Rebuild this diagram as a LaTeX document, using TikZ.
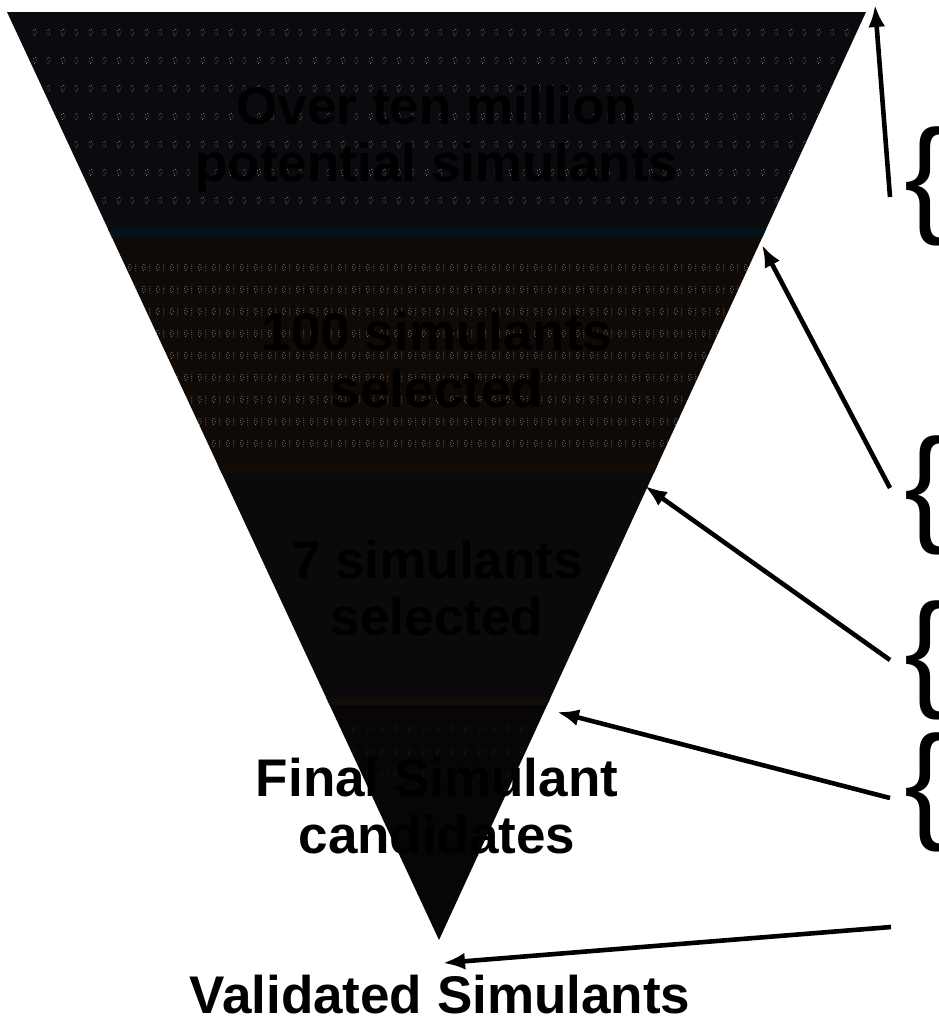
\documentclass[tikz,border=0pt]{standalone}
\usepackage{fontspec}
\setmainfont{Liberation Sans}
\usetikzlibrary{arrows.meta,patterns.meta,calc}
\definecolor{bandA}{RGB}{9,11,14}
\definecolor{bandB}{RGB}{16,10,6}
\definecolor{bandC}{RGB}{12,9,12}
\definecolor{bandD}{RGB}{8,5,8}
\definecolor{sepA}{RGB}{4,18,26}
\definecolor{sepB}{RGB}{20,11,4}
\definecolor{sepC}{RGB}{18,12,10}
\definecolor{dotA}{RGB}{150,150,150}
\definecolor{dotB}{RGB}{140,130,120}
\definecolor{dotD}{RGB}{40,34,40}
\tikzdeclarepattern{
  name=binA, type=uncolored,
  bottom left={(0pt,0pt)}, top right={(28pt,28pt)},
  tile size={(28pt,28pt)},
  code={\draw[line width=0.7pt, dash pattern=on 0.7pt off 2.2pt] (7pt,14pt) ellipse (1.6pt and 3.6pt);
        \draw[line width=0.7pt, dash pattern=on 0.7pt off 2.2pt] (21pt,14pt) ellipse (1.6pt and 3.6pt);}
}
\tikzdeclarepattern{
  name=binB, type=uncolored,
  bottom left={(0pt,0pt)}, top right={(14pt,22pt)},
  tile size={(14pt,22pt)},
  code={\draw[line width=0.7pt, dash pattern=on 0.7pt off 1.6pt] (4pt,11pt) ellipse (1.6pt and 3.6pt);
        \draw[line width=0.7pt, dash pattern=on 0.7pt off 1.6pt] (10.5pt,7pt) -- (10.5pt,15pt);}
}
\tikzset{
  intext/.style={font=\fontsize{53}{57}\selectfont\bfseries, text=black, align=center, inner sep=0pt},
  outtext/.style={font=\fontsize{53}{57}\selectfont\bfseries, text=black, align=center, inner sep=0pt},
  bracetext/.style={font=\fontsize{128}{135}\selectfont, text=black, inner sep=0pt, anchor=west},
  pointer/.style={line width=4.6pt, draw=black, -{Latex[length=22pt,width=17pt]}},
}
\begin{document}
\begin{tikzpicture}[x=1pt,y=-1pt]
\useasboundingbox (0,0) rectangle (938,1026);
\fill[white] (0,0) rectangle (938,1026);
% funnel corners
\coordinate (TL) at (7,12);
\coordinate (TR) at (866,12);
\coordinate (AP) at (439,940);
\coordinate (L1) at ($(TL)!0.2425!(AP)$);
\coordinate (R1) at ($(TR)!0.2425!(AP)$);
\coordinate (L2) at ($(TL)!0.4957!(AP)$);
\coordinate (R2) at ($(TR)!0.4957!(AP)$);
\coordinate (L3) at ($(TL)!0.7468!(AP)$);
\coordinate (R3) at ($(TR)!0.7468!(AP)$);
% bands
\fill[bandA] (TL) -- (TR) -- (R1) -- (L1) -- cycle;
\fill[bandB] (L1) -- (R1) -- (R2) -- (L2) -- cycle;
\fill[bandC] (L2) -- (R2) -- (R3) -- (L3) -- cycle;
\fill[bandD] (L3) -- (R3) -- (AP) -- cycle;
\begin{scope}
  \clip (TL) -- (TR) -- (AP) -- cycle;
  \fill[pattern=binA, pattern color=dotA] (30,28) rectangle (850,222);
  \fill[pattern=binB, pattern color=dotB] (100,255) rectangle (760,458);
  \fill[pattern=binB, pattern color=dotD] (300,722) rectangle (560,780);
  \draw[line width=9pt, sepA] ($(L1)+(-20,-4)$) -- ($(R1)+(20,-4)$);
  \draw[line width=9pt, sepB] ($(L2)+(-20,-4)$) -- ($(R2)+(20,-4)$);
  \draw[line width=7pt, sepC] ($(L3)+(-20,-4)$) -- ($(R3)+(20,-4)$);
\end{scope}
% texts in the funnel
\node[intext] (t1) at (437,139) {Over ten million\\potential simulants};
\node[intext] (t2) at (437,360) {100 simulants\\selected};
\node[intext] (t3) at (437,588) {7 simulants\\selected};
\node[intext] (t4) at (437,806) {Final Simulant\\candidates};
\node[outtext] (t5) at (440,995) {Validated Simulants};
% braces (cut off at the right edge, as in the reference)
\node[bracetext] (b1) at (904,186) {\{};
\node[bracetext] (b2) at (904,495) {\{};
\node[bracetext] (b3) at (904,660) {\{};
\node[bracetext] (b4) at (904,792) {\{};
% arrow ends
\coordinate (s1) at (890,197);
\coordinate (s2) at (890,488);
\coordinate (s3) at (890,660);
\coordinate (s4) at (890,798);
\coordinate (s5) at (891,927);
\coordinate (e1) at (875,5);
\coordinate (e2) at (762,245);
\coordinate (e3) at (645,486);
\coordinate (e4) at (557,712);
\coordinate (e5) at (443,963);
\draw[pointer] (s1) -- (e1);
\draw[pointer] (s2) -- (e2);
\draw[pointer] (s3) -- (e3);
\draw[pointer] (s4) -- (e4);
\draw[pointer] (s5) -- (e5);
\end{tikzpicture}
\end{document}
